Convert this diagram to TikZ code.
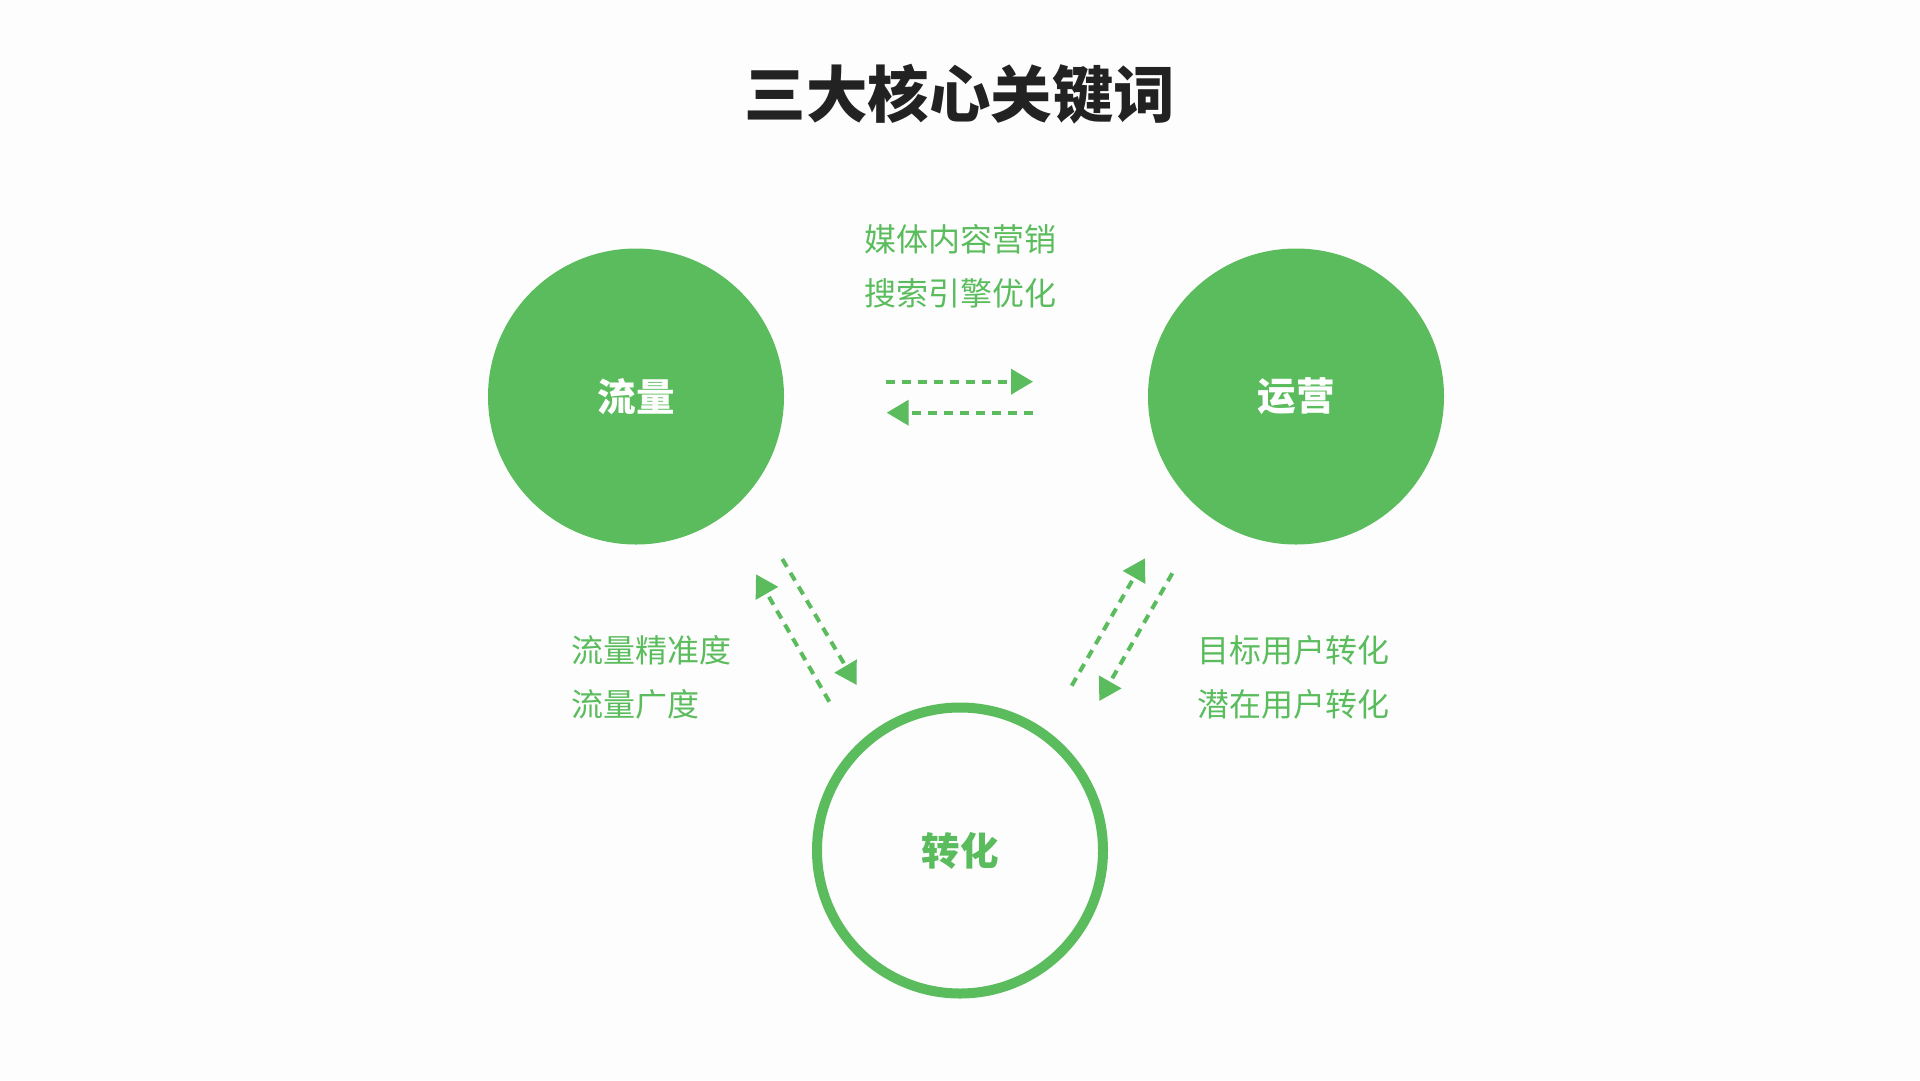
\documentclass[tikz,border=0pt]{standalone}
\usepackage{fontspec}
\setmainfont{Noto Sans CJK SC}
\usepackage{xcolor}
\usetikzlibrary{arrows.meta}

\definecolor{keygreen}{RGB}{90,188,92}
\definecolor{titlegray}{RGB}{34,34,34}
\definecolor{paper}{RGB}{253,253,253}

\tikzset{
  bigdot/.style={circle, fill=keygreen, minimum size=296pt, inner sep=0pt,
    text=white, font=\fontsize{38.5}{38.5}\selectfont\bfseries},
  ringdot/.style={circle, draw=keygreen, line width=10pt, minimum size=286pt,
    inner sep=0pt, text=keygreen, font=\fontsize{38.5}{38.5}\selectfont\bfseries},
  note/.style={text=keygreen, inner sep=0pt, font=\fontsize{32}{53.5}\selectfont},
  flow/.style={draw=keygreen, line width=4pt, dash pattern=on 9pt off 7pt,
    -{Triangle[length=22pt,width=25pt]}, keygreen}
}

\begin{document}
\begin{tikzpicture}[x=1pt,y=-1pt]
    \fill[paper] (0,0) rectangle (1920,1080);

    \node[text=titlegray, font=\fontsize{61.5}{61.5}\selectfont\bfseries] (title) at (960,94) {三大核心关键词};

    \node[bigdot] (traffic) at (636,396.5) {流量};
    \node[bigdot] (operate) at (1296,396.5) {运营};
    \node[ringdot] (convert) at (960,850.5) {转化};

    \node[note, align=center] (topnote) at (960,266.2) {媒体内容营销\\搜索引擎优化};
    \node[note, align=left, anchor=west] (leftnote) at (571,677.2) {流量精准度\\流量广度};
    \node[note, align=left, anchor=west] (rightnote) at (1197.5,677.5) {目标用户转化\\潜在用户转化};

    % arrow ends
    \coordinate (tr1) at (886,381.7);
    \coordinate (op1) at (1033,381.7);
    \coordinate (op2) at (1033,412.7);
    \coordinate (tr2) at (886.7,412.7);

    \coordinate (cv1) at (829.3,701.7);
    \coordinate (tr3) at (756,574.3);
    \coordinate (tr4) at (782.3,559);
    \coordinate (cv2) at (856.7,685);

    \coordinate (cv3) at (1071.7,685.7);
    \coordinate (op3) at (1145,558.3);
    \coordinate (op4) at (1172.3,573.3);
    \coordinate (cv4) at (1099.3,701);

    \draw[flow] (tr1) -- (op1);
    \draw[flow] (op2) -- (tr2);
    \draw[flow] (cv1) -- (tr3);
    \draw[flow] (tr4) -- (cv2);
    \draw[flow] (cv3) -- (op3);
    \draw[flow] (op4) -- (cv4);
\end{tikzpicture}
\end{document}
